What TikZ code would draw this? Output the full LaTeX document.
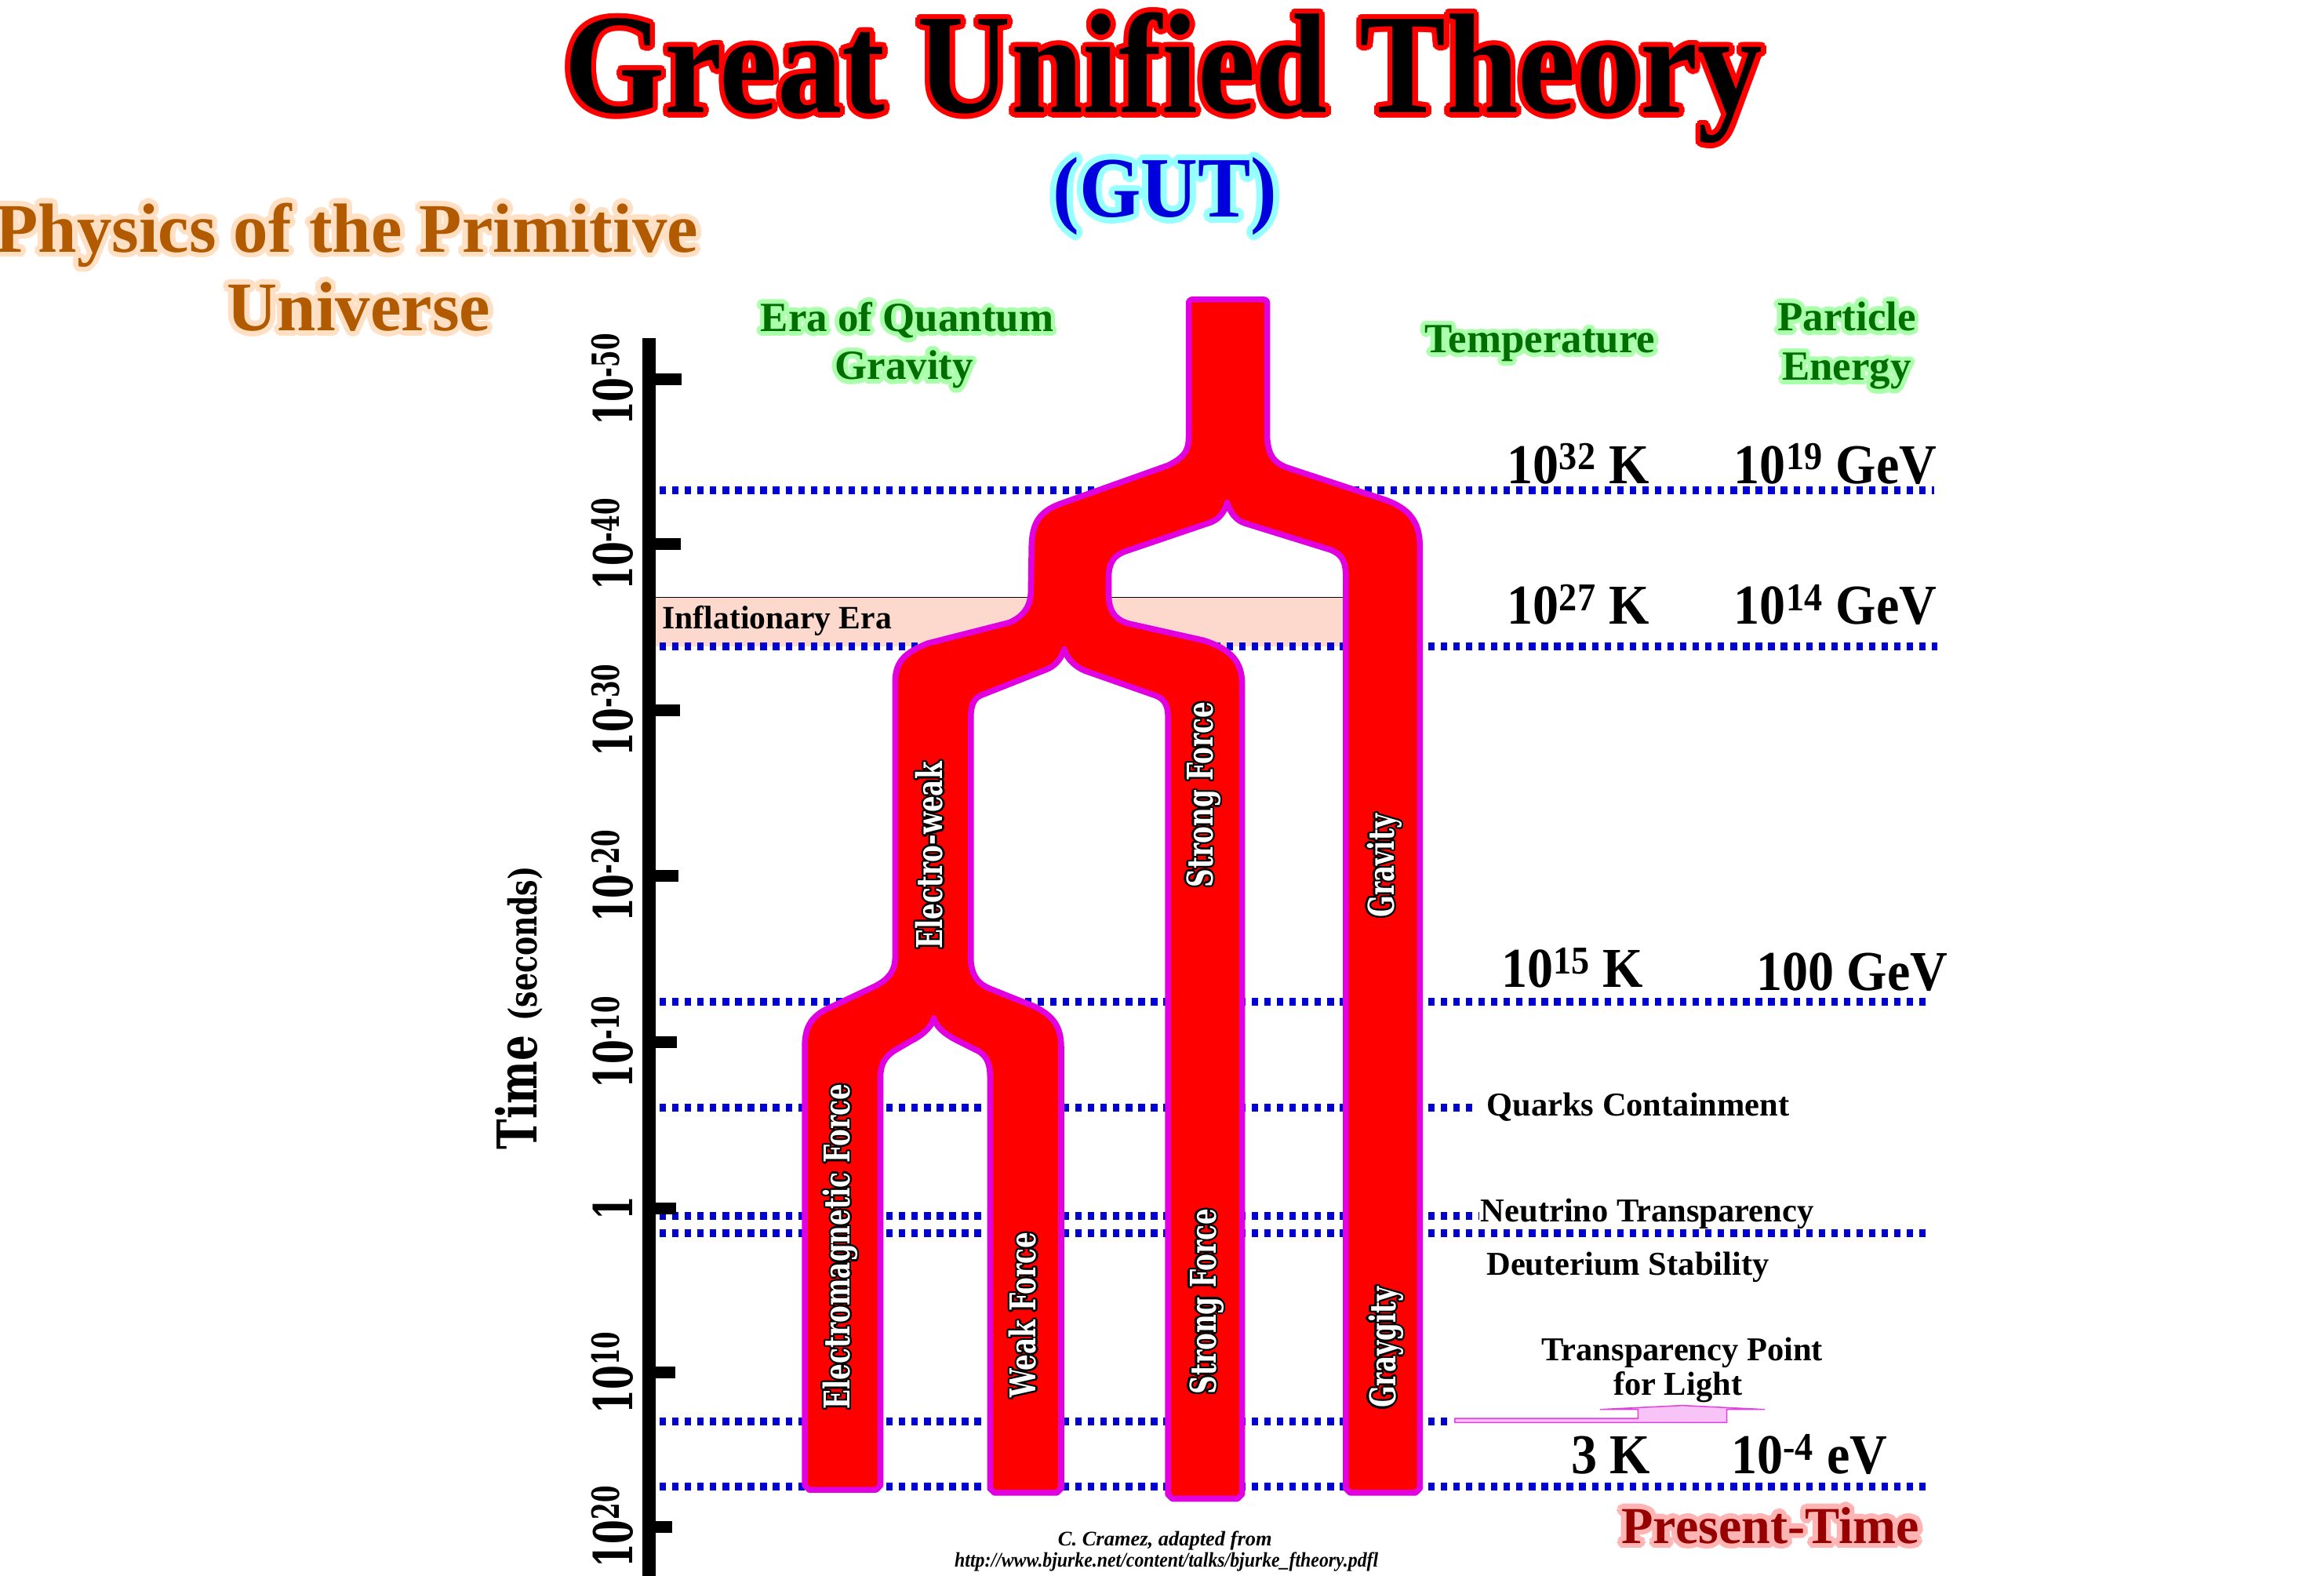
\documentclass[tikz,border=0pt]{standalone}
\usepackage{fontspec}
\usepackage{graphicx}
\setmainfont{Liberation Serif}
\newfontfamily\dvs{DejaVu Serif}
\usetikzlibrary{calc}
\definecolor{tubered}{RGB}{255,0,0}
\definecolor{tubeedge}{RGB}{224,0,224}
\definecolor{dotblue}{RGB}{0,0,210}
\definecolor{inflfill}{RGB}{253,216,204}
\definecolor{eragreen}{RGB}{0,110,0}
\definecolor{eraglow}{RGB}{170,255,170}
\definecolor{physorange}{RGB}{178,90,0}
\definecolor{physglow}{RGB}{255,224,196}
\definecolor{gutblue}{RGB}{0,0,220}
\definecolor{gutglow}{RGB}{150,255,255}
\definecolor{presred}{RGB}{150,0,0}
\definecolor{presglow}{RGB}{255,180,180}
\definecolor{arrowfill}{RGB}{248,196,248}
\definecolor{arrowedge}{RGB}{224,64,224}
\newcommand\fsz[1]{\fontsize{#1}{#1}\selectfont}
\newcommand\glownode[6]{%
  \foreach \ga in {0,22.5,...,337.5}{\node[#2,text=#4] at ($(#3)+(\ga:#5)$) {#6};}%
  \node[#2] (#1) at (#3) {#6};}
\begin{document}
\begin{tikzpicture}[x=1pt,y=-1pt,
  every node/.style={inner sep=0pt, outer sep=0pt},
  treeshape/.style={draw=tubeedge, fill=tubered, line width=4pt, line join=round},
  dotline/.style={draw=dotblue, line width=5.3pt, dash pattern=on 4.4pt off 4.1pt},
  colabel/.style={rotate=90, text=white, font=\dvs\bfseries\fsz{24}},
  ticklab/.style={rotate=90, anchor=base, font=\dvs\bfseries\fsz{36}},
  greenlab/.style={anchor=base, text=eragreen, font=\bfseries\fsz{28}},
  valtext/.style={anchor=base west, font=\bfseries\fsz{38}},
  eventtext/.style={font=\bfseries\fsz{22.5}},
]
\useasboundingbox (0,0) rectangle (1568,1063);
\fill[white] (0,0) rectangle (1568,1063);

% inflationary band
\fill[inflfill] (442,403) rectangle (912,436);
\draw[line width=0.8pt] (442,403) -- (912,403);

% dotted lines
\draw[dotline] (445,331) -- (1305,331);
\draw[dotline] (445,436) -- (1307,436);
\draw[dotline] (445,676) -- (1300,676);
\draw[dotline] (445,747) -- (996,747);
\draw[dotline] (445,820) -- (998,820);
\draw[dotline] (445,832) -- (1299,832);
\draw[dotline] (445,959) -- (980,959);
\draw[dotline] (445,1003) -- (1300,1003);

% the branching tree of forces
\draw[treeshape] (802,205) .. controls (802,203) and (803,202) .. (805,202)
  -- (852,202) .. controls (854,202) and (855,203) .. (855,205)
  -- (855,296) .. controls (856,309) and (861,313) .. (870,316)
  -- (934,337) .. controls (951,343) and (958,352) .. (958,369)
  -- (958,1004) -- (955,1007) -- (911,1007) -- (908,1004)
  -- (908,389) .. controls (908,378) and (905,374) .. (898,371)
  -- (840,353) .. controls (834,351) and (830,346) .. (828,339)
  .. controls (826,346) and (822,351) .. (815,353)
  -- (759,372) .. controls (751,375) and (748,380) .. (748,390)
  -- (748,401) .. controls (748,414) and (754,419) .. (763,421)
  -- (812,432) .. controls (831,438) and (838,447) .. (838,461)
  -- (838,1008) -- (835,1011) -- (791,1011) -- (788,1008)
  -- (788,483) .. controls (788,475) and (785,471) .. (779,469)
  -- (732,452.5) .. controls (726,450) and (720,445) .. (718,438)
  .. controls (716,445) and (711,450) .. (705,452)
  -- (662,469) .. controls (657,471) and (655,476) .. (655,484)
  -- (655,648) .. controls (656,660) and (661,664) .. (668,667)
  -- (698,679) .. controls (712,686) and (716,694) .. (716,707)
  -- (716,1004) -- (713,1007) -- (671,1007) -- (668,1004)
  -- (668,727) .. controls (668,716) and (665,712) .. (660,709)
  -- (646,702) .. controls (640,699) and (632,694) .. (630,687)
  .. controls (628,694) and (621,699) .. (615,702)
  -- (603,709) .. controls (597,713) and (594,718) .. (594,727)
  -- (594,1002) -- (591,1005) -- (546,1005) -- (543,1002)
  -- (543,706) .. controls (543,692) and (548,686) .. (557,681)
  -- (591,665) .. controls (600,660) and (604,655) .. (604,645)
  -- (604,460) .. controls (604,446) and (611,440) .. (626,434)
  -- (681,420) .. controls (690,416) and (695,410) .. (695.5,400)
  -- (696,370) .. controls (696,352) and (702,345) .. (715,340)
  -- (788,314) .. controls (798,309) and (802,305) .. (802,295)
  -- cycle;

% column labels
\glownode{lew}{colabel}{627,577}{black}{1.2pt}{\scalebox{0.72}[1]{Electro-weak}}
\glownode{lsf1}{colabel}{812,536}{black}{1.2pt}{\scalebox{0.72}[1]{Strong Force}}
\glownode{lgr1}{colabel}{934,584}{black}{1.2pt}{\scalebox{0.72}[1]{Gravity}}
\glownode{lem}{colabel}{567,841}{black}{1.2pt}{\scalebox{0.72}[1]{Electromagnetic Force}}
\glownode{lwf}{colabel}{690,887}{black}{1.2pt}{\scalebox{0.72}[1]{Weak Force}}
\glownode{lsf2}{colabel}{814,878}{black}{1.2pt}{\scalebox{0.72}[1]{Strong Force}}
\glownode{lgr2}{colabel}{935,909}{black}{1.2pt}{\scalebox{0.72}[1]{Graygity}}

% axis
\fill (433.5,228) rectangle (442.3,1063);
\foreach \y/\l in {256/460,367/459.4,479/458.6,591/457.7,703/456.8,815/456.2,926/455.4,1030/453.3}
  \fill (440,\y-4) rectangle (\l,\y+4);
\node[ticklab] (lab50) at (427,256) {\scalebox{0.65}[1]{10\textsuperscript{-50}}};
\node[ticklab] (lab40) at (427,367) {\scalebox{0.65}[1]{10\textsuperscript{-40}}};
\node[ticklab] (lab30) at (427,479) {\scalebox{0.65}[1]{10\textsuperscript{-30}}};
\node[ticklab] (lab20) at (427,591) {\scalebox{0.65}[1]{10\textsuperscript{-20}}};
\node[ticklab] (lab10) at (427,703) {\scalebox{0.65}[1]{10\textsuperscript{-10}}};
\node[ticklab] (lab0) at (427,815) {\scalebox{0.65}[1]{1}};
\node[ticklab] (labp10) at (427,926) {\scalebox{0.65}[1]{10\textsuperscript{10}}};
\node[ticklab] (labp20) at (427,1030) {\scalebox{0.65}[1]{10\textsuperscript{20}}};
\node[rotate=90, anchor=base, font=\dvs\bfseries] (timelab) at (362,680) {\scalebox{0.74}[1]{\fsz{37}Time \fsz{26}(seconds)}};

% titles
\glownode{title}{anchor=base, font=\bfseries\fsz{96}, text=black}{785,76}{red}{3.5pt}{\scalebox{0.91}[1]{Great Unified Theory}}
\glownode{gut}{anchor=base, font=\bfseries\fsz{58}, text=gutblue}{786,146.4}{gutglow}{4pt}{\scalebox{0.92}[1]{(GUT)}}
\glownode{phys1}{anchor=base, font=\bfseries\fsz{47}, text=physorange}{234,170}{physglow}{3.5pt}{Physics of the Primitive}
\glownode{phys2}{anchor=base, font=\bfseries\fsz{47}, text=physorange}{242,223}{physglow}{3.5pt}{Universe}
\glownode{era1}{greenlab}{612,223.6}{eraglow}{3pt}{Era of Quantum}
\glownode{era2}{greenlab}{610,256}{eraglow}{3pt}{Gravity}
\glownode{temp}{greenlab}{1039,238}{eraglow}{3pt}{Temperature}
\glownode{part1}{greenlab}{1246,223}{eraglow}{3pt}{Particle}
\glownode{part2}{greenlab}{1246,256.6}{eraglow}{3pt}{Energy}
\glownode{present}{anchor=base, font=\bfseries\fsz{35}, text=presred}{1194.5,1041}{presglow}{3.5pt}{Present-Time}

% inflationary label
\node[anchor=base west, font=\bfseries\fsz{22}] (infl) at (447,424) {Inflationary Era};

% values
\node[valtext] (t32) at (1017,326) {\scalebox{0.92}[1]{10\textsuperscript{32} K}};
\node[valtext] (e19) at (1170,326) {\scalebox{0.92}[1]{10\textsuperscript{19} GeV}};
\node[valtext] (t27) at (1017,421) {\scalebox{0.92}[1]{10\textsuperscript{27} K}};
\node[valtext] (e14) at (1170,421) {\scalebox{0.92}[1]{10\textsuperscript{14} GeV}};
\node[valtext] (t15) at (1013,666) {\scalebox{0.92}[1]{10\textsuperscript{15} K}};
\node[valtext] (e100) at (1185,668) {\scalebox{0.92}[1]{100 GeV}};
\node[valtext] (t3) at (1060,994) {\scalebox{0.92}[1]{3 K}};
\node[valtext] (e4) at (1168,994) {\scalebox{0.92}[1]{10\textsuperscript{-4} eV}};

% events
\node[eventtext, anchor=base west] (quarks) at (1003,753) {Quarks Containment};
\node[eventtext, anchor=base west] (neutr) at (999,824) {Neutrino Transparency};
\node[eventtext, anchor=base west] (deut) at (1003,860) {Deuterium Stability};
\node[eventtext, anchor=base] (transp1) at (1135,918) {Transparency Point};
\node[eventtext, anchor=base] (transp2) at (1132,941) {for Light};

% arrow
\draw[draw=arrowedge, fill=arrowfill, line width=0.8pt] (981.6,956.9) -- (1105.1,956.9) -- (1105.1,950.8) -- (1079.5,950.8) -- (1135.1,948.1) -- (1190.7,950.8) -- (1165.1,950.8) -- (1165.1,959.6) -- (981.6,959.6) -- cycle;

% footer
\node[anchor=base, font=\bfseries\itshape\fsz{14}] (credit1) at (786,1043) {C. Cramez, adapted from};
\node[anchor=base, font=\bfseries\itshape\fsz{14}] (credit2) at (787,1057) {\scalebox{0.9}[1]{http://www.bjurke.net/content/talks/bjurke\_ftheory.pdfl}};
\end{tikzpicture}
\end{document}
